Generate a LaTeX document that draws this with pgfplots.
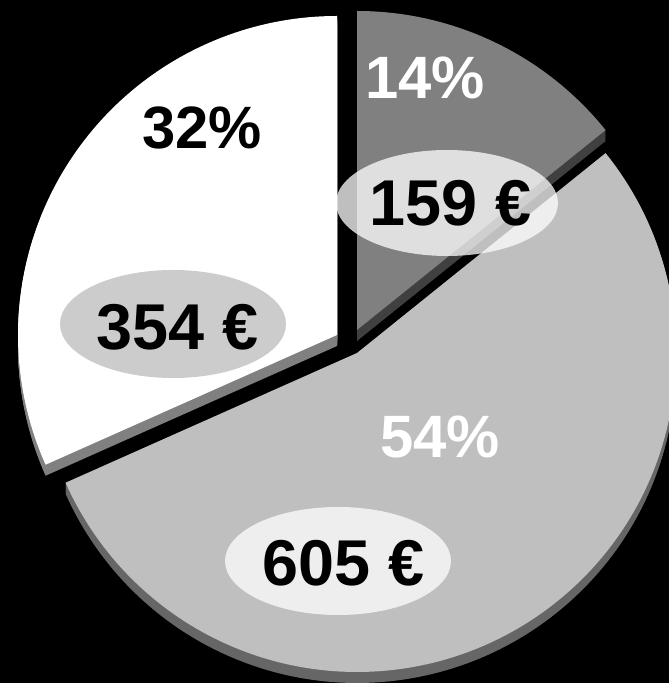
\documentclass[border=0pt]{standalone}
\usepackage{pgfplots}
\usepackage{pgfplotstable}
\pgfplotsset{compat=1.18}
\usepackage{fontspec}
\setmainfont{Liberation Sans}

\definecolor{faceA}{gray}{0.50}  \definecolor{sideA}{gray}{0.25}
\definecolor{faceB}{gray}{0.75}  \definecolor{sideB}{gray}{0.40}
\definecolor{faceC}{gray}{1.00}  \definecolor{sideC}{gray}{0.50}
\definecolor{bubbleC}{gray}{0.80}

% amounts in euro, and the exploded centre of each slice (in px of the picture)
\pgfplotstableread{
part value cx cy
A 159 357 353
B 605 357 330
C 354 337 348
}\pietable

\newcommand\pieslice[6]{%
  \fill[#5, yshift=-#6bp] (axis cs:#1,#2) -- ++(#3:319bp)
    arc[start angle=#3, end angle=#4, radius=319bp] -- cycle;}

\begin{document}
\begin{tikzpicture}
\pgfplotstablegetelem{0}{value}\of\pietable \edef\va{\pgfplotsretval}
\pgfplotstablegetelem{1}{value}\of\pietable \edef\vb{\pgfplotsretval}
\pgfplotstablegetelem{2}{value}\of\pietable \edef\vc{\pgfplotsretval}
\pgfplotstablegetelem{0}{cx}\of\pietable \edef\xa{\pgfplotsretval}
\pgfplotstablegetelem{0}{cy}\of\pietable \edef\ya{\pgfplotsretval}
\pgfplotstablegetelem{1}{cx}\of\pietable \edef\xb{\pgfplotsretval}
\pgfplotstablegetelem{1}{cy}\of\pietable \edef\yb{\pgfplotsretval}
\pgfplotstablegetelem{2}{cx}\of\pietable \edef\xc{\pgfplotsretval}
\pgfplotstablegetelem{2}{cy}\of\pietable \edef\yc{\pgfplotsretval}
\pgfmathsetmacro\total{\va+\vb+\vc}
\pgfmathsetmacro\fa{\va/\total}
\pgfmathsetmacro\fb{\vb/\total}
\pgfmathsetmacro\fc{\vc/\total}
\pgfmathsetmacro\angA{90-360*\fa}
\pgfmathsetmacro\angB{\angA-360*\fb}
\pgfmathtruncatemacro\pa{round(100*\fa)}
\pgfmathtruncatemacro\pb{round(100*\fb)}
\pgfmathtruncatemacro\pc{round(100*\fc)}

\path[use as bounding box, clip] (0,0) rectangle (669bp,683bp);
\fill[black] (0,0) rectangle (669bp,683bp);

\begin{axis}[
    at={(0,0)}, anchor=south west,
    scale only axis, width=669bp, height=683bp,
    xmin=0, xmax=669, ymin=0, ymax=683,
    hide axis, clip=false,
]
% sides of the slices
\pgfplotsinvokeforeach{1,...,11}{
  \pieslice{\xb}{\yb}{\angA}{\angB}{sideB}{#1}
  \pieslice{\xc}{\yc}{\angB}{-270}{sideC}{#1}
  \pieslice{\xa}{\ya}{90}{\angA}{sideA}{#1}
}
% top faces
\pieslice{\xb}{\yb}{\angA}{\angB}{faceB}{0}
\pieslice{\xc}{\yc}{\angB}{-270}{faceC}{0}
\pieslice{\xa}{\ya}{90}{\angA}{faceA}{0}

% value bubbles
\fill[white, fill opacity=0.75] (axis cs:447,480) ellipse [x radius=111bp, y radius=53bp];
\fill[white, fill opacity=0.75] (axis cs:338,122) ellipse [x radius=113bp, y radius=54bp];
\fill[bubbleC] (axis cs:173,359) ellipse [x radius=113bp, y radius=54bp];

\begin{scope}[every node/.style={font=\bfseries\fontsize{60}{66}\selectfont}]
\node[white] at (axis cs:425,605) {\pa\%};
\node[white] at (axis cs:440,246) {\pb\%};
\node[black] at (axis cs:202,555) {\pc\%};
\end{scope}
\begin{scope}[every node/.style={font=\bfseries\fontsize{65}{70}\selectfont}]
\node[black] at (axis cs:451,480) {\va{} €};
\node[black] at (axis cs:344,120) {\vb{} €};
\node[black] at (axis cs:178,356) {\vc{} €};
\end{scope}
\end{axis}
\end{tikzpicture}
\end{document}
